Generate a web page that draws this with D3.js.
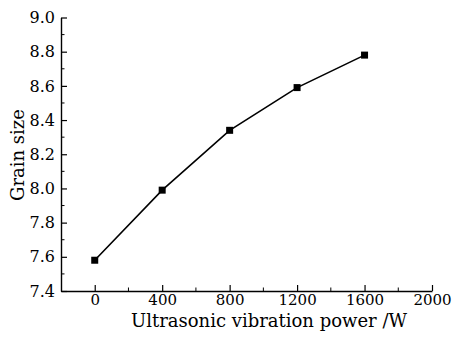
<!DOCTYPE html>
<html>
<head>
<meta charset="utf-8">
<script src="https://cdn.jsdelivr.net/npm/d3@7"></script>
<style>
  body { margin: 0; background: #fff; }
  text { font-family: "DejaVu Serif", serif; fill: #000; }
</style>
</head>
<body>
<svg id="chart" width="452" height="338"></svg>
<script>
// data
var power = [0, 400, 800, 1200, 1600];
var grainSize = [7.58, 7.99, 8.34, 8.59, 8.78];
var xTicks = [0, 400, 800, 1200, 1600, 2000];
var yTicks = [7.4, 7.6, 7.8, 8.0, 8.2, 8.4, 8.6, 8.8, 9.0];

var svg = d3.select("#chart");
var mLeft = 61, mRight = 432, mTop = 17.5, mBottom = 291;

var x = d3.scaleLinear().domain([-200, 2000]).range([mLeft, mRight]);
var y = d3.scaleLinear().domain([7.4, 9.0]).range([mBottom, mTop]);

// y axis, ticks point inward
var yAxis = d3.axisLeft(y)
    .tickValues(yTicks)
    .tickSizeInner(-6)
    .tickSizeOuter(0)
    .tickFormat(d3.format(".1f"));
var gy = svg.append("g").attr("transform", "translate(" + mLeft + ",0)").call(yAxis);
gy.selectAll(".tick text")
    .attr("font-size", 16)
    .attr("font-family", "DejaVu Serif")
    .attr("x", -6);
var yMinor = d3.range(7.5, 9.0, 0.2);
gy.selectAll(".minor").data(yMinor).enter().append("line")
    .attr("x1", 0).attr("x2", 3.5)
    .attr("y1", function(d) { return y(d); })
    .attr("y2", function(d) { return y(d); })
    .attr("stroke", "#000");

// x axis
var xAxis = d3.axisBottom(x)
    .tickValues(xTicks)
    .tickSizeInner(-6)
    .tickSizeOuter(0)
    .tickFormat(d3.format("d"));
var gx = svg.append("g").attr("transform", "translate(0," + mBottom + ")").call(xAxis);
gx.selectAll(".tick text")
    .attr("font-size", 15)
    .attr("font-family", "DejaVu Serif")
    .attr("y", 3);
var xMinor = d3.range(200, 2000, 400);
gx.selectAll(".minor").data(xMinor).enter().append("line")
    .attr("x1", function(d) { return x(d); })
    .attr("x2", function(d) { return x(d); })
    .attr("y1", 0).attr("y2", -3.5)
    .attr("stroke", "#000");

svg.selectAll(".domain").attr("stroke-width", 1.4);
svg.selectAll(".tick line").attr("stroke-width", 1.2);

// line + markers
var pts = power.map(function(p, i) { return [p, grainSize[i]]; });
svg.append("path")
    .datum(pts)
    .attr("fill", "none")
    .attr("stroke", "#000")
    .attr("stroke-width", 1.6)
    .attr("d", d3.line().x(function(d) { return x(d[0]); }).y(function(d) { return y(d[1]); }));

svg.selectAll(".pt").data(pts).enter().append("rect")
    .attr("x", function(d) { return x(d[0]) - 3.5; })
    .attr("y", function(d) { return y(d[1]) - 3.5; })
    .attr("width", 7).attr("height", 7)
    .attr("fill", "#000");

// titles
svg.append("text")
    .attr("x", 269)
    .attr("y", 327)
    .attr("text-anchor", "middle")
    .attr("font-size", 18)
    .text("Ultrasonic vibration power /W");

svg.append("text")
    .attr("transform", "translate(24,155) rotate(-90)")
    .attr("text-anchor", "middle")
    .attr("font-size", 18)
    .text("Grain size");
</script>
</body>
</html>
